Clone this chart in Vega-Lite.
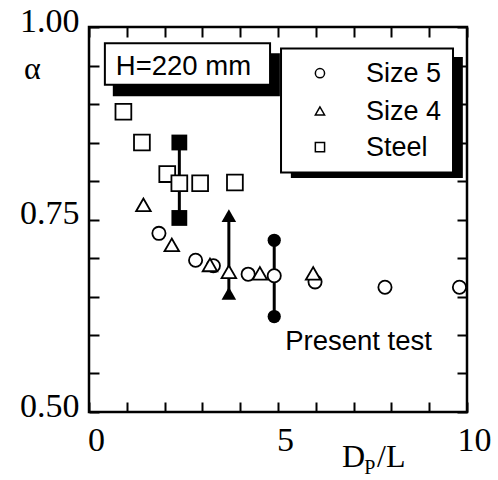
{
  "$schema": "https://vega.github.io/schema/vega-lite/v6.json",
  "width": 378,
  "height": 385,
  "autosize": {"type": "none"},
  "padding": {"left": 89, "top": 27, "right": 31, "bottom": 68},
  "background": "white",
  "config": {
    "view": {"stroke": "black", "strokeWidth": 2.5}
  },
  "datasets": {
    "boxes": [
      {"part": "shadow", "x1": 0.63, "x2": 5.05, "y1": 0.966, "y2": 0.910},
      {"part": "shadow", "x1": 5.34, "x2": 9.89, "y1": 0.961, "y2": 0.804},
      {"part": "box", "x1": 0.42, "x2": 4.79, "y1": 0.979, "y2": 0.925},
      {"part": "box", "x1": 5.08, "x2": 9.63, "y1": 0.972, "y2": 0.811}
    ],
    "ranges": [
      {"series": "Steel", "x": 2.39, "lo": 0.752, "hi": 0.850},
      {"series": "Size 4", "x": 3.70, "lo": 0.654, "hi": 0.755},
      {"series": "Size 5", "x": 4.90, "lo": 0.624, "hi": 0.723}
    ],
    "points": [
      {"series": "Size 5", "x": 1.85, "y": 0.732},
      {"series": "Size 5", "x": 2.82, "y": 0.697},
      {"series": "Size 5", "x": 3.29, "y": 0.690},
      {"series": "Size 5", "x": 4.21, "y": 0.679},
      {"series": "Size 5", "x": 4.90, "y": 0.677},
      {"series": "Size 5", "x": 5.98, "y": 0.669},
      {"series": "Size 5", "x": 7.83, "y": 0.662},
      {"series": "Size 5", "x": 9.80, "y": 0.662},
      {"series": "Size 4", "x": 1.44, "y": 0.769},
      {"series": "Size 4", "x": 2.19, "y": 0.717},
      {"series": "Size 4", "x": 3.20, "y": 0.691},
      {"series": "Size 4", "x": 3.70, "y": 0.682},
      {"series": "Size 4", "x": 4.52, "y": 0.680},
      {"series": "Size 4", "x": 5.93, "y": 0.680},
      {"series": "Steel", "x": 0.91, "y": 0.890},
      {"series": "Steel", "x": 1.40, "y": 0.850},
      {"series": "Steel", "x": 2.07, "y": 0.809},
      {"series": "Steel", "x": 2.39, "y": 0.797},
      {"series": "Steel", "x": 2.94, "y": 0.797},
      {"series": "Steel", "x": 3.86, "y": 0.798}
    ],
    "legend": [
      {"series": "Size 5", "x": 6.11, "y": 0.940, "tx": 7.33, "ty": 0.928},
      {"series": "Size 4", "x": 6.11, "y": 0.891, "tx": 7.33, "ty": 0.879},
      {"series": "Steel", "x": 6.11, "y": 0.844, "tx": 7.33, "ty": 0.832}
    ],
    "notes": [
      {"text": "H=220 mm", "x": 0.71, "y": 0.938},
      {"text": "Present test", "x": 5.19, "y": 0.581}
    ],
    "titles": [
      {"text": "α", "x": -1.72, "y": 0.932},
      {"text": "D", "x": 6.69, "y": 0.428},
      {"text": "/L", "x": 7.62, "y": 0.428}
    ],
    "subs": [
      {"text": "P", "x": 7.28, "y": 0.419}
    ]
  },
  "layer": [
    {
      "data": {"name": "boxes"},
      "transform": [{"filter": "datum.part === 'shadow'"}],
      "mark": {"type": "rect", "fill": "black"},
      "encoding": {
        "x": {"field": "x1", "type": "quantitative", "scale": {"domain": [0, 10], "nice": false, "zero": false},
              "axis": {"orient": "bottom", "values": [0, 1, 2, 3, 4, 5, 6, 7, 8, 9, 10], "tickSize": -10, "tickColor": "black", "tickWidth": 2, "domain": false, "grid": false, "labelExpr": "datum.value % 5 === 0 ? datum.label : ''", "labelPadding": 21, "labelOffset": 7, "labelBaseline": "top", "labelFont": "Liberation Serif", "labelFontSize": 34, "labelColor": "black", "labelFlush": false, "labelOverlap": false, "title": null}},
        "x2": {"field": "x2"},
        "y": {"field": "y1", "type": "quantitative", "scale": {"domain": [0.5, 1.0], "nice": false, "zero": false},
              "axis": {"orient": "left", "values": [0.5, 0.55, 0.6, 0.65, 0.7, 0.75, 0.8, 0.85, 0.9, 0.95, 1.0], "tickSize": -10, "tickColor": "black", "tickWidth": 2, "domain": false, "grid": false, "labelExpr": "round(datum.value * 100) % 25 === 0 ? format(datum.value, '.2f') : ''", "labelPadding": 20, "labelBaseline": "alphabetic", "labelOffset": 4, "labelFont": "Liberation Serif", "labelFontSize": 34, "labelColor": "black", "labelFlush": false, "labelOverlap": false, "title": null}},
        "y2": {"field": "y2"}
      }
    },
    {
      "data": {"name": "boxes"},
      "transform": [{"filter": "datum.part === 'box'"}],
      "mark": {"type": "rect", "fill": "white", "stroke": "black", "strokeWidth": 2},
      "encoding": {
        "x": {"field": "x1", "type": "quantitative", "scale": {"domain": [0, 10], "nice": false, "zero": false}, "axis": null},
        "x2": {"field": "x2"},
        "y": {"field": "y1", "type": "quantitative", "scale": {"domain": [0.5, 1.0], "nice": false, "zero": false}, "axis": null},
        "y2": {"field": "y2"}
      }
    },
    {
      "data": {"name": "ranges"},
      "mark": {"type": "rule", "color": "black", "strokeWidth": 3},
      "encoding": {
        "x": {"field": "x", "type": "quantitative", "scale": {"domain": [0, 10], "nice": false, "zero": false},
              "axis": {"orient": "top", "values": [0, 1, 2, 3, 4, 5, 6, 7, 8, 9, 10], "tickSize": -10, "tickColor": "black", "tickWidth": 2, "domain": false, "grid": false, "labels": false, "title": null}},
        "y": {"field": "lo", "type": "quantitative", "scale": {"domain": [0.5, 1.0], "nice": false, "zero": false},
              "axis": {"orient": "right", "values": [0.5, 0.55, 0.6, 0.65, 0.7, 0.75, 0.8, 0.85, 0.9, 0.95, 1.0], "tickSize": -10, "tickColor": "black", "tickWidth": 2, "domain": false, "grid": false, "labels": false, "title": null}},
        "y2": {"field": "hi"}
      }
    },
    {
      "data": {"name": "ranges"},
      "transform": [{"fold": ["lo", "hi"], "as": ["end", "value"]}],
      "mark": {"type": "point", "filled": true, "color": "black", "opacity": 1},
      "encoding": {
        "x": {"field": "x", "type": "quantitative", "scale": {"domain": [0, 10], "nice": false, "zero": false}, "axis": null},
        "y": {"field": "value", "type": "quantitative", "scale": {"domain": [0.5, 1.0], "nice": false, "zero": false}, "axis": null},
        "shape": {"field": "series", "type": "nominal", "scale": {"domain": ["Size 5", "Size 4", "Steel"], "range": ["circle", "triangle-up", "square"]}, "legend": null},
        "size": {"field": "series", "type": "nominal", "scale": {"domain": ["Size 5", "Size 4", "Steel"], "range": [175, 250, 150]}, "legend": null}
      }
    },
    {
      "data": {"name": "points"},
      "mark": {"type": "point", "filled": true, "fill": "white", "stroke": "black", "strokeWidth": 1.8, "opacity": 1},
      "encoding": {
        "x": {"field": "x", "type": "quantitative", "scale": {"domain": [0, 10], "nice": false, "zero": false}, "axis": null},
        "y": {"field": "y", "type": "quantitative", "scale": {"domain": [0.5, 1.0], "nice": false, "zero": false}, "axis": null},
        "shape": {"field": "series", "type": "nominal", "scale": {"domain": ["Size 5", "Size 4", "Steel"], "range": ["circle", "triangle-up", "square"]}, "legend": null},
        "size": {"field": "series", "type": "nominal", "scale": {"domain": ["Size 5", "Size 4", "Steel"], "range": [175, 250, 150]}, "legend": null}
      }
    },
    {
      "data": {"name": "legend"},
      "mark": {"type": "point", "filled": true, "fill": "white", "stroke": "black", "strokeWidth": 1.5, "opacity": 1, "size": 85},
      "encoding": {
        "x": {"field": "x", "type": "quantitative", "scale": {"domain": [0, 10], "nice": false, "zero": false}, "axis": null},
        "y": {"field": "y", "type": "quantitative", "scale": {"domain": [0.5, 1.0], "nice": false, "zero": false}, "axis": null},
        "shape": {"field": "series", "type": "nominal", "scale": {"domain": ["Size 5", "Size 4", "Steel"], "range": ["circle", "triangle-up", "square"]}, "legend": null}
      }
    },
    {
      "data": {"name": "legend"},
      "mark": {"type": "text", "align": "left", "baseline": "alphabetic", "font": "Liberation Sans", "fontSize": 27, "color": "black"},
      "encoding": {
        "x": {"field": "tx", "type": "quantitative", "scale": {"domain": [0, 10], "nice": false, "zero": false}, "axis": null},
        "y": {"field": "ty", "type": "quantitative", "scale": {"domain": [0.5, 1.0], "nice": false, "zero": false}, "axis": null},
        "text": {"field": "series"}
      }
    },
    {
      "data": {"name": "notes"},
      "mark": {"type": "text", "align": "left", "baseline": "alphabetic", "font": "Liberation Sans", "fontSize": 27.5, "color": "black"},
      "encoding": {
        "x": {"field": "x", "type": "quantitative", "scale": {"domain": [0, 10], "nice": false, "zero": false}, "axis": null},
        "y": {"field": "y", "type": "quantitative", "scale": {"domain": [0.5, 1.0], "nice": false, "zero": false}, "axis": null},
        "text": {"field": "text"}
      }
    },
    {
      "data": {"name": "titles"},
      "mark": {"type": "text", "align": "left", "baseline": "alphabetic", "font": "Liberation Serif", "fontSize": 32, "color": "black"},
      "encoding": {
        "x": {"field": "x", "type": "quantitative", "scale": {"domain": [0, 10], "nice": false, "zero": false}, "axis": null},
        "y": {"field": "y", "type": "quantitative", "scale": {"domain": [0.5, 1.0], "nice": false, "zero": false}, "axis": null},
        "text": {"field": "text"}
      }
    },
    {
      "data": {"name": "subs"},
      "mark": {"type": "text", "align": "left", "baseline": "alphabetic", "font": "Liberation Serif", "fontSize": 20, "color": "black"},
      "encoding": {
        "x": {"field": "x", "type": "quantitative", "scale": {"domain": [0, 10], "nice": false, "zero": false}, "axis": null},
        "y": {"field": "y", "type": "quantitative", "scale": {"domain": [0.5, 1.0], "nice": false, "zero": false}, "axis": null},
        "text": {"field": "text"}
      }
    }
  ],
  "resolve": {"axis": {"x": "independent", "y": "independent"}}
}
